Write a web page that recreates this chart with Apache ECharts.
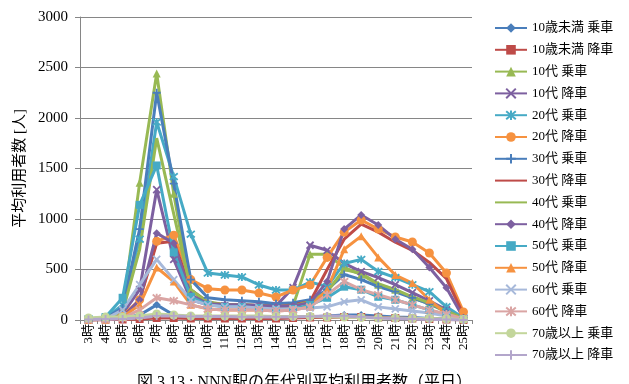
<!DOCTYPE html>
<html>
<head>
<meta charset="utf-8">
<script src="https://cdn.jsdelivr.net/npm/echarts@6/dist/echarts.min.js"></script>
<style>
html,body{margin:0;padding:0;background:#fff;}
#c{width:629px;height:384px;}
</style>
</head>
<body>
<div id="c"></div>
<script>
const hours = ['3時','4時','5時','6時','7時','8時','9時','10時','11時','12時','13時','14時','15時','16時','17時','18時','19時','20時','21時','22時','23時','24時','25時'];
const yTicks = [0, 500, 1000, 1500, 2000, 2500, 3000];
const seriesNames = ['10歳未満 乗車','10歳未満 降車','10代 乗車','10代 降車','20代 乗車','20代 降車','30代 乗車','30代 降車','40代 乗車','40代 降車','50代 乗車','50代 降車','60代 乗車','60代 降車','70歳以上 乗車','70歳以上 降車'];
const u10On   = [5,10,20,50,150,50,25,20,20,20,20,20,25,30,40,50,50,40,30,25,15,10,5];
const u10Off  = [0,5,5,10,20,20,15,15,15,15,15,15,20,25,25,30,30,25,20,15,10,5,0];
const a10On   = [5,20,100,1360,2440,1250,300,180,150,150,140,130,140,650,650,520,450,350,300,220,160,80,20];
const a10Off  = [5,10,60,300,1290,600,200,150,140,140,150,140,320,740,690,560,480,420,350,270,190,100,20];
const a20On   = [5,20,150,800,1960,1420,850,465,445,426,347,297,297,376,330,560,600,480,420,350,280,130,20];
const a20Off  = [5,10,40,200,780,840,400,310,297,297,267,228,297,347,620,870,990,900,822,772,663,465,80];
const a30On   = [5,20,120,900,2250,1350,400,220,200,190,180,160,170,200,300,450,400,330,280,220,160,90,15];
const a30Off  = [0,5,30,200,760,780,300,170,150,150,140,130,150,180,500,800,950,870,770,690,570,410,50];
const a40On   = [5,20,80,700,1800,1050,300,170,150,150,140,130,140,180,280,500,460,360,300,230,170,90,15];
const a40Off  = [0,5,20,200,860,760,250,160,150,150,140,130,140,170,380,900,1040,940,800,700,520,320,20];
const a50On   = [10,30,220,1140,1530,670,230,150,130,130,120,100,110,150,220,330,300,230,200,150,100,50,10];
const a50Off  = [0,5,30,150,520,380,150,110,100,100,100,90,100,130,300,700,830,620,445,366,200,60,10];
const a60On   = [5,10,100,350,600,400,200,150,130,130,120,110,110,120,130,180,200,130,110,90,70,40,10];
const a60Off  = [0,5,20,100,220,190,150,110,100,100,100,90,100,130,250,380,300,250,200,150,100,60,10];
const a70On   = [20,30,30,40,60,50,40,40,40,40,40,35,35,35,30,30,25,20,20,15,15,10,5];
const a70Off  = [5,10,10,20,40,40,35,35,35,30,30,30,30,35,40,40,30,20,15,10,5,5,0];
const allData = [u10On,u10Off,a10On,a10Off,a20On,a20Off,a30On,a30Off,a40On,a40Off,a50On,a50Off,a60On,a60Off,a70On,a70Off];

const colors = ['#4A7EBB','#BE4B48','#98B954','#7D60A0','#46AAC5','#F69240','#4A7EBB','#BE4B48','#98B954','#7D60A0','#46AAC5','#F69240','#A7B9DA','#DAA5A4','#C3D69B','#B3A6CB'];
const X = 'path://M0,0L10,10M10,0L0,10';
const PLUS = 'path://M5,0L5,10M0,5L10,5';
const STAR = 'path://M0,0L10,10M10,0L0,10M5,-1L5,11';
const symbols = ['diamond','rect','triangle',X,STAR,'circle',PLUS,'none','none','diamond','rect','triangle',X,STAR,'circle',PLUS];
const symSizes = [8,8,8,7,8,9,8,0,0,8,8,8,7,8,9,8];

const FF = "'Liberation Serif', 'Noto Sans CJK JP', serif";

const series = allData.map((d, i) => {
  const open = (symbols[i] === X || symbols[i] === PLUS || symbols[i] === STAR);
  const none = symbols[i] === 'none';
  return {
    name: seriesNames[i],
    type: 'line',
    data: d,
    symbol: symbols[i],
    symbolSize: symSizes[i],
    showSymbol: !none,
    lineStyle: {color: colors[i], width: 3},
    itemStyle: open ? {color: colors[i], borderColor: colors[i], borderWidth: 1.8}
             : none ? {color: 'rgba(0,0,0,0)', borderColor: 'rgba(0,0,0,0)', borderWidth: 0}
             : {color: colors[i], borderWidth: 0},
    emphasis: {disabled: true},
    animation: false
  };
});

const chart = echarts.init(document.getElementById('c'));
chart.setOption({
  backgroundColor: '#fff',
  animation: false,
  color: colors,
  grid: {left: 80, right: 157, top: 17, bottom: 64, containLabel: false},
  legend: {
    orient: 'vertical',
    left: 489,
    top: 16,
    itemWidth: 32,
    itemHeight: 12,
    itemGap: 7.8,
    textStyle: {fontFamily: FF, fontSize: 13, color: '#000', lineHeight: 14},
    data: seriesNames
  },
  xAxis: {
    type: 'category',
    data: hours,
    boundaryGap: true,
    axisLine: {lineStyle: {color: '#868686', width: 1}},
    axisTick: {show: true, length: 4, lineStyle: {color: '#868686'}},
    axisLabel: {rotate: 90, fontFamily: FF, fontSize: 13, color: '#000', margin: 4, interval: 0}
  },
  yAxis: {
    type: 'value',
    min: yTicks[0],
    max: yTicks[yTicks.length - 1],
    interval: yTicks[1] - yTicks[0],
    name: '平均利用者数 [人]',
    nameLocation: 'middle',
    nameGap: 47,
    nameTextStyle: {fontFamily: FF, fontSize: 15, color: '#000'},
    axisLine: {show: true, lineStyle: {color: '#868686', width: 1}},
    axisTick: {show: true, length: 5, lineStyle: {color: '#868686'}},
    axisLabel: {fontFamily: FF, fontSize: 15, color: '#000', margin: 12, formatter: v => String(v)},
    splitLine: {lineStyle: {color: '#868686', width: 1}}
  },
  graphic: [{
    type: 'text',
    left: 137,
    top: 375,
    style: {text: '図 3.13 : NNN駅の年代別平均利用者数（平日）', font: "16px 'Liberation Serif', 'Noto Sans CJK JP', serif", fill: '#000'}
  }],
  series: series
});
</script>
</body>
</html>
